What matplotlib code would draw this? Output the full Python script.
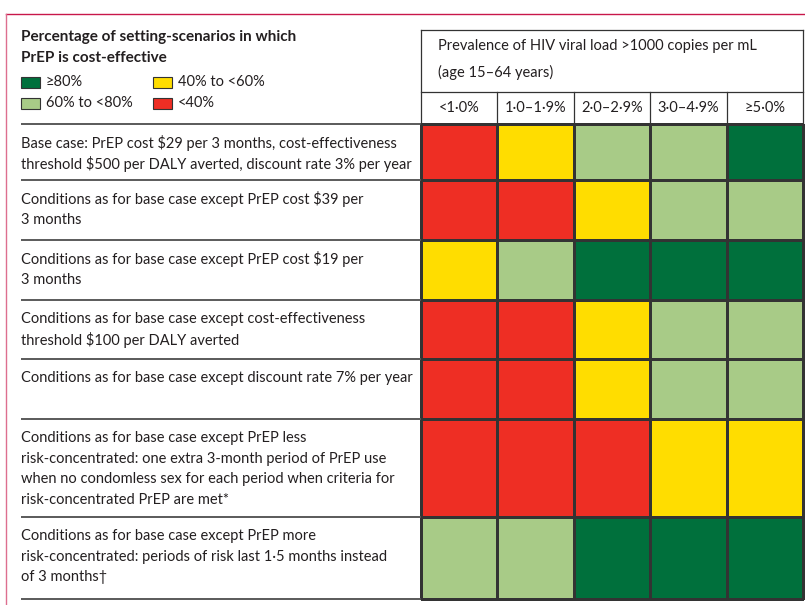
import numpy as np
import matplotlib
matplotlib.use("Agg")
import matplotlib.pyplot as plt
from matplotlib.colors import ListedColormap, BoundaryNorm
from matplotlib.patches import Rectangle

plt.rcParams['font.family'] = ['Lato', 'DejaVu Sans']

# ---------------- data ----------------
legend_title = "Percentage of setting-scenarios in which\nPrEP is cost-effective"
legend_labels = ["<40%", "40% to <60%", "60% to <80%", "\u226580%"]
category_colors = ["#ee2e24", "#ffdd00", "#a8cb87", "#00703c"]

header_title = ["Prevalence of HIV viral load >1000 copies per mL", "(age 15\u201364 years)"]
prevalence_labels = ["<1\u00b70%", "1\u00b70\u20131\u00b79%", "2\u00b70\u20132\u00b79%", "3\u00b70\u20134\u00b79%", "\u22655\u00b70%"]

scenarios = [
    "Base case: PrEP cost $29 per 3 months, cost-effectiveness\nthreshold $500 per DALY averted, discount rate 3% per year",
    "Conditions as for base case except PrEP cost $39 per\n3 months",
    "Conditions as for base case except PrEP cost $19 per\n3 months",
    "Conditions as for base case except cost-effectiveness\nthreshold $100 per DALY averted",
    "Conditions as for base case except discount rate 7% per year",
    "Conditions as for base case except PrEP less\nrisk-concentrated: one extra 3-month period of PrEP use\nwhen no condomless sex for each period when criteria for\nrisk-concentrated PrEP are met*",
    "Conditions as for base case except PrEP more\nrisk-concentrated: periods of risk last 1\u00b75 months instead\nof 3 months\u2020",
]

# category codes: 0 = <40%, 1 = 40% to <60%, 2 = 60% to <80%, 3 = >=80%
base_case         = [0, 1, 2, 2, 3]
cost_39           = [0, 0, 1, 2, 2]
cost_19           = [1, 2, 3, 3, 3]
threshold_100     = [0, 0, 1, 2, 2]
discount_7        = [0, 0, 1, 2, 2]
less_concentrated = [0, 0, 0, 1, 1]
more_concentrated = [2, 2, 3, 3, 3]

# ---------------- layout (pixels) ----------------
W, H = 805, 605
fig = plt.figure(figsize=(W / 100, H / 100), dpi=100)
ax = fig.add_axes([0, 0, 1, 1])
ax.set_xlim(0, W)
ax.set_ylim(H, 0)
ax.axis('off')

values = np.array([base_case, cost_39, cost_19, threshold_100, discount_7,
                   less_concentrated, more_concentrated])

col_edges = np.linspace(421, 803, len(prevalence_labels) + 1)
row_edges = np.array([124, 180, 240, 300, 359, 419, 517, 599])
left_x = 21

cmap = ListedColormap(category_colors)
norm = BoundaryNorm([-0.5, 0.5, 1.5, 2.5, 3.5], cmap.N)
ax.pcolormesh(col_edges, row_edges, values, cmap=cmap, norm=norm,
              edgecolor="#333333", linewidth=0.8)

line_col = "#5a5a5a"
# row separators (text side)
for y in row_edges:
    ax.plot([left_x, col_edges[0]], [y, y], color=line_col, lw=1.4, solid_capstyle='butt')
# header box
hdr_top, hdr_mid = 30, 92
grid_col = "#333333"
ax.plot([col_edges[0], col_edges[-1]], [hdr_top, hdr_top], color=grid_col, lw=0.9)
ax.plot([col_edges[0], col_edges[-1]], [hdr_mid, hdr_mid], color=grid_col, lw=0.9)
ax.plot([col_edges[0], col_edges[-1]], [row_edges[0], row_edges[0]], color=grid_col, lw=0.9)
for x in col_edges[1:-1]:
    ax.plot([x, x], [hdr_mid, row_edges[0]], color=grid_col, lw=0.9)
for x in [col_edges[0], col_edges[-1]]:
    ax.plot([x, x], [hdr_top, row_edges[-1]], color=grid_col, lw=0.9)
ax.plot([col_edges[0], col_edges[-1]], [row_edges[-1], row_edges[-1]], color=grid_col, lw=0.9)

# crimson frame
ax.plot([6, W], [14, 14], color="#c8174a", lw=1.0)
ax.plot([6, 6], [14, H], color="#dd6f8f", lw=1.0)

fs = 10.5
tc = "#231f20"
# header text
ax.text(438, 46, header_title[0], fontsize=fs, color=tc, va='center', ha='left')
ax.text(438, 72, header_title[1], fontsize=fs, color=tc, va='center', ha='left')
for i, lab in enumerate(prevalence_labels):
    ax.text((col_edges[i] + col_edges[i + 1]) / 2, 108, lab, fontsize=fs, color=tc,
            va='center', ha='center')

# scenario text
for i, s in enumerate(scenarios):
    for j, line in enumerate(s.split("\n")):
        ax.text(left_x, row_edges[i] + 19 + 20.5 * j, line, fontsize=fs, color=tc,
                va='center', ha='left')

# legend
for j, line in enumerate(legend_title.split("\n")):
    ax.text(left_x, 37 + 21 * j, line, fontsize=11, color=tc, fontweight='bold',
            va='center', ha='left')
leg_order = [3, 1, 2, 0]
leg_pos = [(left_x, 82), (153, 82), (left_x, 103), (153, 103)]
for k, (x, y) in zip(leg_order, leg_pos):
    ax.add_patch(Rectangle((x, y - 5.5), 19, 11, facecolor=category_colors[k],
                           edgecolor="#333333", lw=0.8))
    ax.text(x + 25, y, legend_labels[k], fontsize=fs, color=tc, va='center', ha='left')

fig.savefig("out.png", dpi=100)
